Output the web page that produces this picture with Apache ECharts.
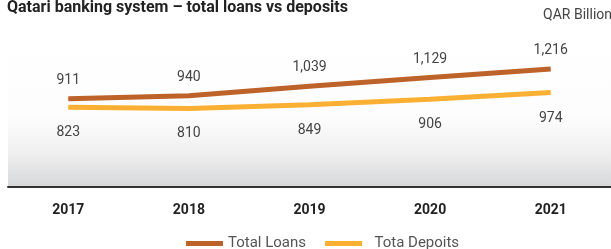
<!DOCTYPE html>
<html><head><meta charset="utf-8">
<script src="https://cdn.jsdelivr.net/npm/echarts@6/dist/echarts.min.js"></script>
<style>html,body{margin:0;padding:0;background:#fff}#c{width:611px;height:249px}</style>
</head><body><div id="c"></div>
<script>
const years = ['2017', '2018', '2019', '2020', '2021'];
const totalLoans = [911, 940, 1039, 1129, 1216];
const totalDeposits = [823, 810, 849, 906, 974];
const seriesNames = ['Total Loans', 'Tota Depoits'];
const titleText = 'Qatari banking system \u2013 total loans vs deposits';
const unitText = 'QAR Billion';

const FONT = 'Roboto';
const chart = echarts.init(document.getElementById('c'), null, {renderer: 'canvas'});
const fmt = p => Number(p.value).toLocaleString('en-US');
chart.setOption({
  animation: false,
  title: [
    {text: titleText, left: 7, top: 0, padding: 0,
     textStyle: {fontFamily: FONT, fontSize: 16, fontWeight: 'bold', color: '#222'}},
    {text: unitText, right: -1, top: 8, padding: 0,
     textStyle: {fontFamily: FONT, fontSize: 14, fontWeight: 'normal', color: '#444'}}
  ],
  legend: {
    bottom: -7, left: 181, itemGap: 19, itemWidth: 37, itemHeight: 5,
    icon: 'rect',
    formatter: n => n === seriesNames[1] ? '  ' + n : n,
    textStyle: {fontFamily: FONT, fontSize: 15, color: '#555'},
    data: seriesNames
  },
  grid: {
    left: 8, right: -5, top: 28, bottom: 62, show: true, borderWidth: 0,
    backgroundColor: new echarts.graphic.LinearGradient(0, 0, 0, 1, [
      {offset: 0, color: '#ffffff'},
      {offset: 0.55, color: '#fdfdfd'},
      {offset: 0.78, color: '#f0f0f0'},
      {offset: 1, color: '#d6d7d9'}
    ])
  },
  xAxis: {
    type: 'category', data: years, boundaryGap: true,
    axisLine: {lineStyle: {color: '#333', width: 2}},
    axisTick: {show: false},
    axisLabel: {fontFamily: FONT, fontSize: 14, fontWeight: 'bold', color: '#222', margin: 16}
  },
  yAxis: {
    type: 'value', min: 0, max: 1640, show: false,
    splitLine: {show: false}
  },
  series: [
    {name: seriesNames[0], type: 'line', data: totalLoans, symbol: 'circle', symbolSize: 1,
     lineStyle: {color: '#bd6228', width: 5}, itemStyle: {color: '#bd6228'},
     label: {show: true, position: 'top', distance: 11, formatter: fmt,
       fontFamily: FONT, fontSize: 14, color: '#444'}},
    {name: seriesNames[1], type: 'line', data: totalDeposits, symbol: 'circle', symbolSize: 1,
     lineStyle: {color: '#fbb033', width: 5}, itemStyle: {color: '#fbb033'},
     label: {show: true, position: 'bottom', distance: 18, formatter: fmt,
       fontFamily: FONT, fontSize: 14, color: '#444'}}
  ]
});
</script></body></html>
